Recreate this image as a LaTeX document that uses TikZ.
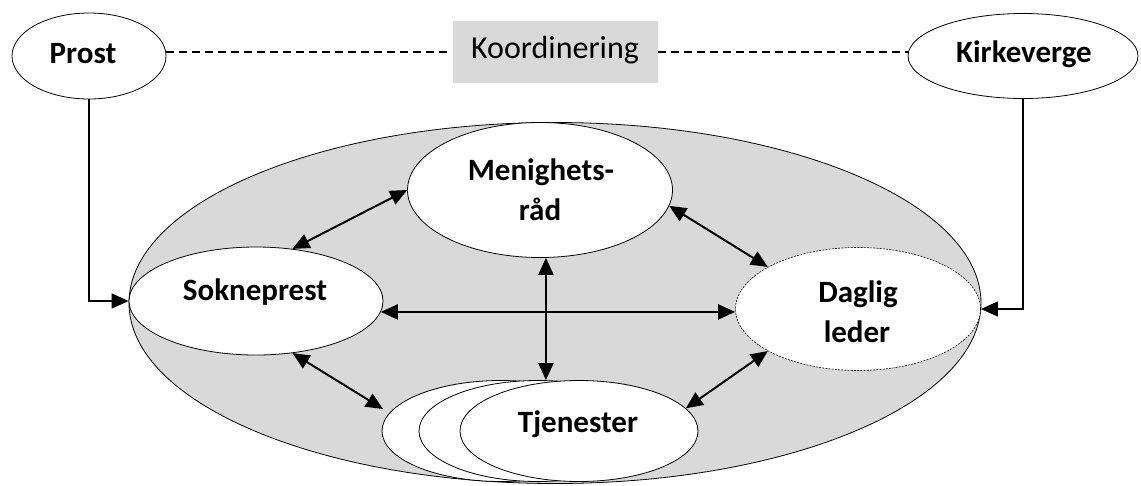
\documentclass[tikz,border=0pt]{standalone}
\usepackage{fontspec}
\setmainfont{Carlito}
\usetikzlibrary{shapes.geometric,arrows.meta,calc}
\definecolor{bggray}{HTML}{D9D9D9}
\tikzset{
  ell/.style={ellipse, draw=black, line width=0.8pt, fill=white, inner sep=0pt},
  lbl/.style={anchor=base, inner sep=0pt, font=\bfseries\fontsize{31}{40}\selectfont},
  arr/.style={line width=2pt, {Triangle[length=17pt,width=15pt]}-{Triangle[length=17pt,width=15pt]}},
  arrone/.style={line width=1.4pt, -{Triangle[length=17pt,width=15pt]}},
  dashline/.style={line width=1.3pt, dash pattern=on 8pt off 5pt},
}
\begin{document}
\begin{tikzpicture}[x=1pt,y=-1pt]
\useasboundingbox (0,0) rectangle (1141,485);
% top row
\node[ell, minimum width=154pt, minimum height=86pt] (prost) at (89,56) {};
\node[lbl] (prostt) at (83,63) {Prost};
\node[ell, minimum width=230pt, minimum height=85pt] (kirke) at (1023,56) {};
\node[lbl] (kirket) at (1024,62) {Kirkeverge};
\node[fill=bggray, minimum width=205pt, minimum height=62pt, inner sep=0pt] (koord) at (555,52) {};
\node[anchor=base, inner sep=0pt, font=\fontsize{32}{36}\selectfont] (koordt) at (555,58) {Koordinering};
\draw[dashline] (prost.east |- koord.west) -- (koord.west);
\draw[dashline] (koord.east) -- (kirke.west |- koord.east);
% big ellipse
\node[ellipse, draw=black, line width=0.8pt, fill=bggray, minimum width=852pt, minimum height=361pt, inner sep=0pt] (big) at (555,303) {};
% inner nodes
\node[ell, minimum width=265pt, minimum height=135pt] (men) at (540,190) {};
\node[lbl] (ment1) at (541,180) {Menighets-};
\node[lbl] (ment2) at (540,220) {råd};
\node[ell, minimum width=254pt, minimum height=108pt] (sok) at (256,301) {};
\node[lbl] (sokt) at (255,300) {Sokneprest};
\node[ell, draw=none, minimum width=245pt, minimum height=123pt] (dag) at (858,309) {};
\draw[line width=0.6pt, dash pattern=on 2pt off 1.2pt] (dag.center) ellipse [x radius=122.5pt, y radius=61.5pt];
\node[lbl] (dagt1) at (858,302) {Daglig};
\node[lbl] (dagt2) at (857,342) {leder};
\node[ell, minimum width=238pt, minimum height=101pt] (tj1) at (501,431) {};
\node[ell, minimum width=238pt, minimum height=101pt] (tj2) at (538,431) {};
\node[ell, minimum width=238pt, minimum height=101pt] (tj3) at (579,431) {};
\node[lbl] (tjt) at (578,432) {Tjenester};
% connectors
\coordinate (tjleft) at (383,409);
\draw[arrone] (prost.south) |- (sok.west);
\draw[arrone] (kirke.south) |- (dag.east);
\draw[arr] (men.180) -- (sok.55);
\draw[arr] (men.-7) -- (dag.155);
\draw[arr] (sok.-5.5) -- (sok.-5.5 -| dag.west);
\draw[arr] (men.-85) -- (men.-85 |- tj3.north);
\draw[arr] (sok.-55) -- (tjleft);
\draw[arr] (dag.205) -- (tj3.12);
\end{tikzpicture}
\end{document}
